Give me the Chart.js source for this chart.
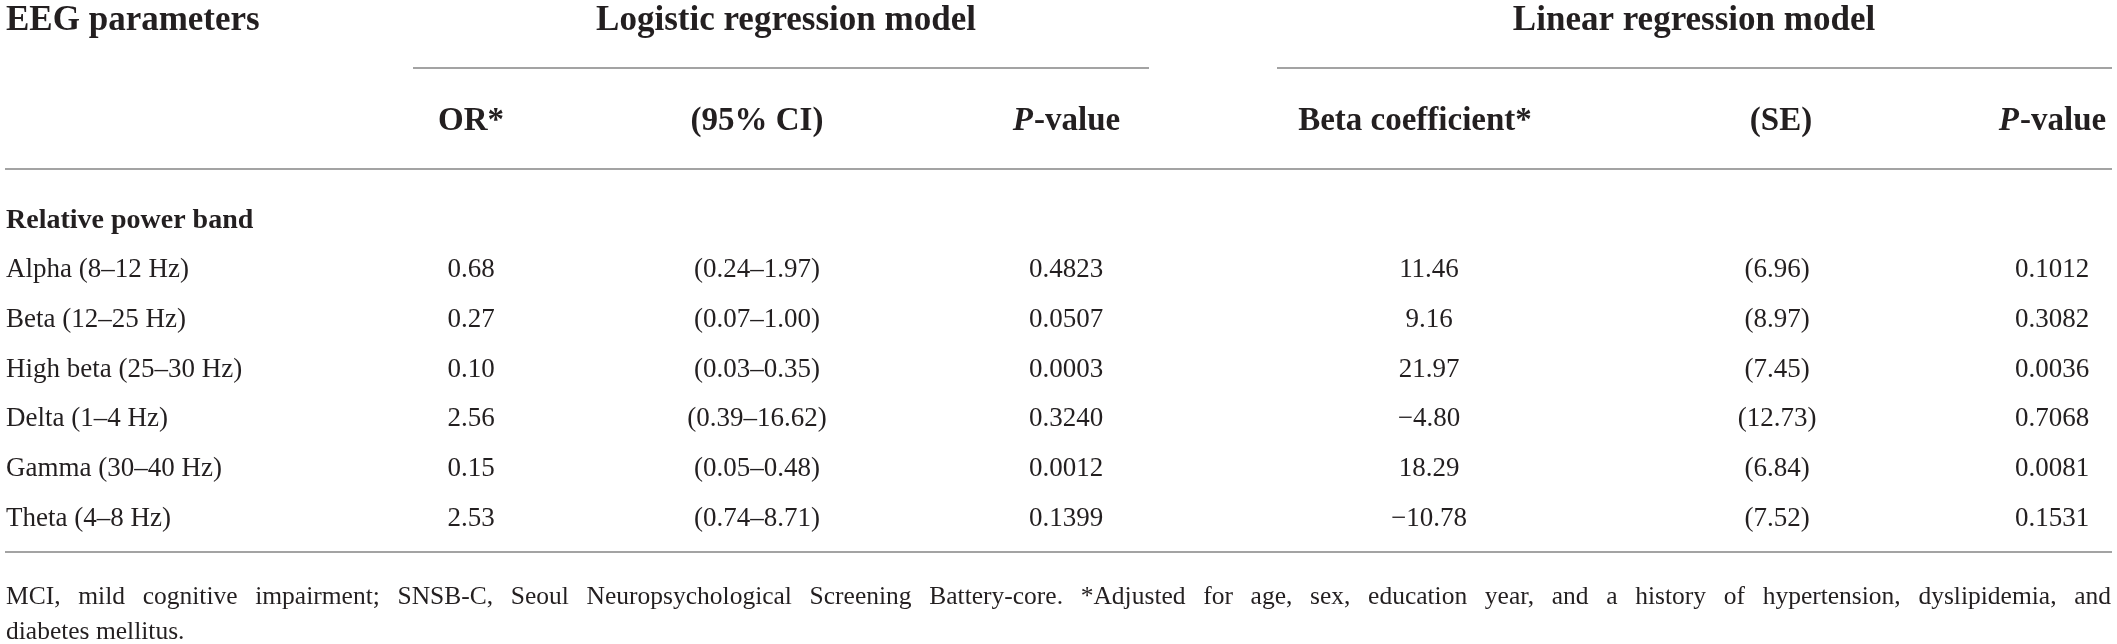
<!DOCTYPE html>
<html>
<head>
<meta charset="utf-8">
<script src="https://cdn.jsdelivr.net/npm/chart.js@4.4.0/dist/chart.umd.min.js"></script>
<style>
  html, body { margin: 0; padding: 0; background: #fff; }
  #wrap { width: 2117px; height: 644px; position: relative; }
</style>
</head>
<body>
<div id="wrap"><canvas id="tabla"></canvas></div>
<script>
// Datos de la tabla
const bands = ['Alpha (8–12 Hz)', 'Beta (12–25 Hz)', 'High beta (25–30 Hz)', 'Delta (1–4 Hz)', 'Gamma (30–40 Hz)', 'Theta (4–8 Hz)'];
const orValues = [0.68, 0.27, 0.10, 2.56, 0.15, 2.53];
const ciLower = [0.24, 0.07, 0.03, 0.39, 0.05, 0.74];
const ciUpper = [1.97, 1.00, 0.35, 16.62, 0.48, 8.71];
const orPValues = [0.4823, 0.0507, 0.0003, 0.3240, 0.0012, 0.1399];
const betaCoef = [11.46, 9.16, 21.97, -4.80, 18.29, -10.78];
const betaSE = [6.96, 8.97, 7.45, 12.73, 6.84, 7.52];
const betaPValues = [0.1012, 0.3082, 0.0036, 0.7068, 0.0081, 0.1531];

// Textos de cabecera y nota al pie
const groupHeaders = ['Logistic regression model', 'Linear regression model'];
const columnHeaders = ['OR*', '(95% CI)', 'P-value', 'Beta coefficient*', '(SE)', 'P-value'];
const firstHeader = 'EEG parameters';
const sectionTitle = 'Relative power band';
const footnote = 'MCI, mild cognitive impairment; SNSB-C, Seoul Neuropsychological Screening Battery-core. *Adjusted for age, sex, education year, and a history of hypertension, dyslipidemia, and diabetes mellitus.';

// Posiciones (en unidades de las escalas, equivalen a px)
const colX = [6, 471, 757, 1066, 1429, 1777, 2052];
const headerX = [471, 757, 1066, 1415, 1781, 2052];
const groupSpan = [[413, 1149], [1277, 2112]];
const groupTextX = [786, 1694];
const rowY0 = 270, rowStep = 49.8;
const layoutY = { title: 21, groupLine: 68, sub: 121, headLine: 169, section: 221, bottomLine: 552, foot1: 597, foot2: 632 };

const TEXT = '#231f20';
const RULE = '#a3a3a3';
const SERIF = '"Liberation Serif", "Times New Roman", serif';

// Formatos
const f2 = v => (v < 0 ? '−' : '') + Math.abs(v).toFixed(2);
const f4 = v => v.toFixed(4);

// Columnas como datasets: cada celda es un punto del dataset
const columns = [
    { labels: bands, align: 'left' },
    { labels: orValues.map(f2), align: 'center' },
    { labels: ciLower.map((v, i) => '(' + f2(v) + '–' + f2(ciUpper[i]) + ')'), align: 'center' },
    { labels: orPValues.map(f4), align: 'center' },
    { labels: betaCoef.map(f2), align: 'center' },
    { labels: betaSE.map(v => '(' + f2(v) + ')'), align: 'center' },
    { labels: betaPValues.map(f4), align: 'center' }
];

const datasets = columns.map((col, c) => ({
    label: 'col' + c,
    labels: col.labels,
    align: col.align,
    data: col.labels.map((_, r) => ({ x: colX[c], y: rowY0 + r * rowStep })),
    pointRadius: 0,
    showLine: false
}));

// Dibuja texto justificado a un ancho dado
function drawJustified(ctx, words, x0, x1, y) {
    const widths = words.map(w => ctx.measureText(w).width);
    const total = widths.reduce((a, b) => a + b, 0);
    const gap = (x1 - x0 - total) / (words.length - 1);
    let x = x0;
    words.forEach((w, i) => {
        ctx.fillText(w, x, y);
        x += widths[i] + gap;
    });
}

const tablePlugin = {
    id: 'tablePlugin',
    afterDatasetsDraw(chart) {
        const ctx = chart.ctx;
        const xs = chart.scales.x, ys = chart.scales.y;
        const px = v => xs.getPixelForValue(v);
        const py = v => ys.getPixelForValue(v);
        ctx.save();
        ctx.fillStyle = TEXT;
        ctx.textBaseline = 'middle';

        // Líneas horizontales
        ctx.strokeStyle = RULE;
        ctx.lineWidth = 2;
        const hline = (a, b, y) => {
            ctx.beginPath();
            ctx.moveTo(px(a), py(y));
            ctx.lineTo(px(b), py(y));
            ctx.stroke();
        };
        groupSpan.forEach(s => hline(s[0], s[1], layoutY.groupLine));
        hline(5, 2112, layoutY.headLine);
        hline(5, 2112, layoutY.bottomLine);

        // Cabeceras de grupo
        ctx.font = 'bold 35px ' + SERIF;
        ctx.textAlign = 'left';
        ctx.fillText(firstHeader, px(colX[0]), py(layoutY.title));
        ctx.textAlign = 'center';
        groupHeaders.forEach((h, i) => {
            ctx.fillText(h, px(groupTextX[i]), py(layoutY.title));
        });

        // Cabeceras de columna (P en cursiva)
        const boldF = 'bold 33px ' + SERIF;
        const italF = 'italic bold 33px ' + SERIF;
        columnHeaders.forEach((h, i) => {
            const cx = px(headerX[i]);
            const y = py(layoutY.sub);
            if (h.startsWith('P-')) {
                ctx.font = italF;
                const wP = ctx.measureText('P').width;
                ctx.font = boldF;
                const wRest = ctx.measureText(h.slice(1)).width;
                const x = cx - (wP + wRest) / 2;
                ctx.textAlign = 'left';
                ctx.font = italF;
                ctx.fillText('P', x, y);
                ctx.font = boldF;
                ctx.fillText(h.slice(1), x + wP + 1, y);
            } else {
                ctx.font = boldF;
                ctx.textAlign = 'center';
                ctx.fillText(h, cx, y);
            }
        });

        // Título de sección
        ctx.font = 'bold 28px ' + SERIF;
        ctx.textAlign = 'left';
        ctx.fillText(sectionTitle, px(colX[0]), py(layoutY.section));

        // Celdas
        ctx.font = '27px ' + SERIF;
        chart.data.datasets.forEach((ds, d) => {
            const meta = chart.getDatasetMeta(d);
            ctx.textAlign = ds.align;
            meta.data.forEach((pt, i) => {
                ctx.fillText(ds.labels[i], pt.x, pt.y);
            });
        });

        // Nota al pie (primera línea justificada)
        ctx.font = '25.5px ' + SERIF;
        ctx.textAlign = 'left';
        const words = footnote.split(' ');
        const line2 = words.slice(-2);
        const line1 = words.slice(0, -2);
        drawJustified(ctx, line1, px(6), px(2111), py(layoutY.foot1));
        ctx.fillText(line2.join(' '), px(6), py(layoutY.foot2));
        ctx.restore();
    }
};

new Chart(document.getElementById('tabla'), {
    type: 'scatter',
    data: { datasets: datasets },
    options: {
        responsive: true,
        maintainAspectRatio: false,
        animation: false,
        layout: { padding: 0 },
        plugins: { legend: { display: false }, tooltip: { enabled: false } },
        scales: {
            x: { type: 'linear', min: 0, max: 2117, display: false },
            y: { type: 'linear', min: 0, max: 644, reverse: true, display: false }
        }
    },
    plugins: [tablePlugin]
});
</script>
</body>
</html>
